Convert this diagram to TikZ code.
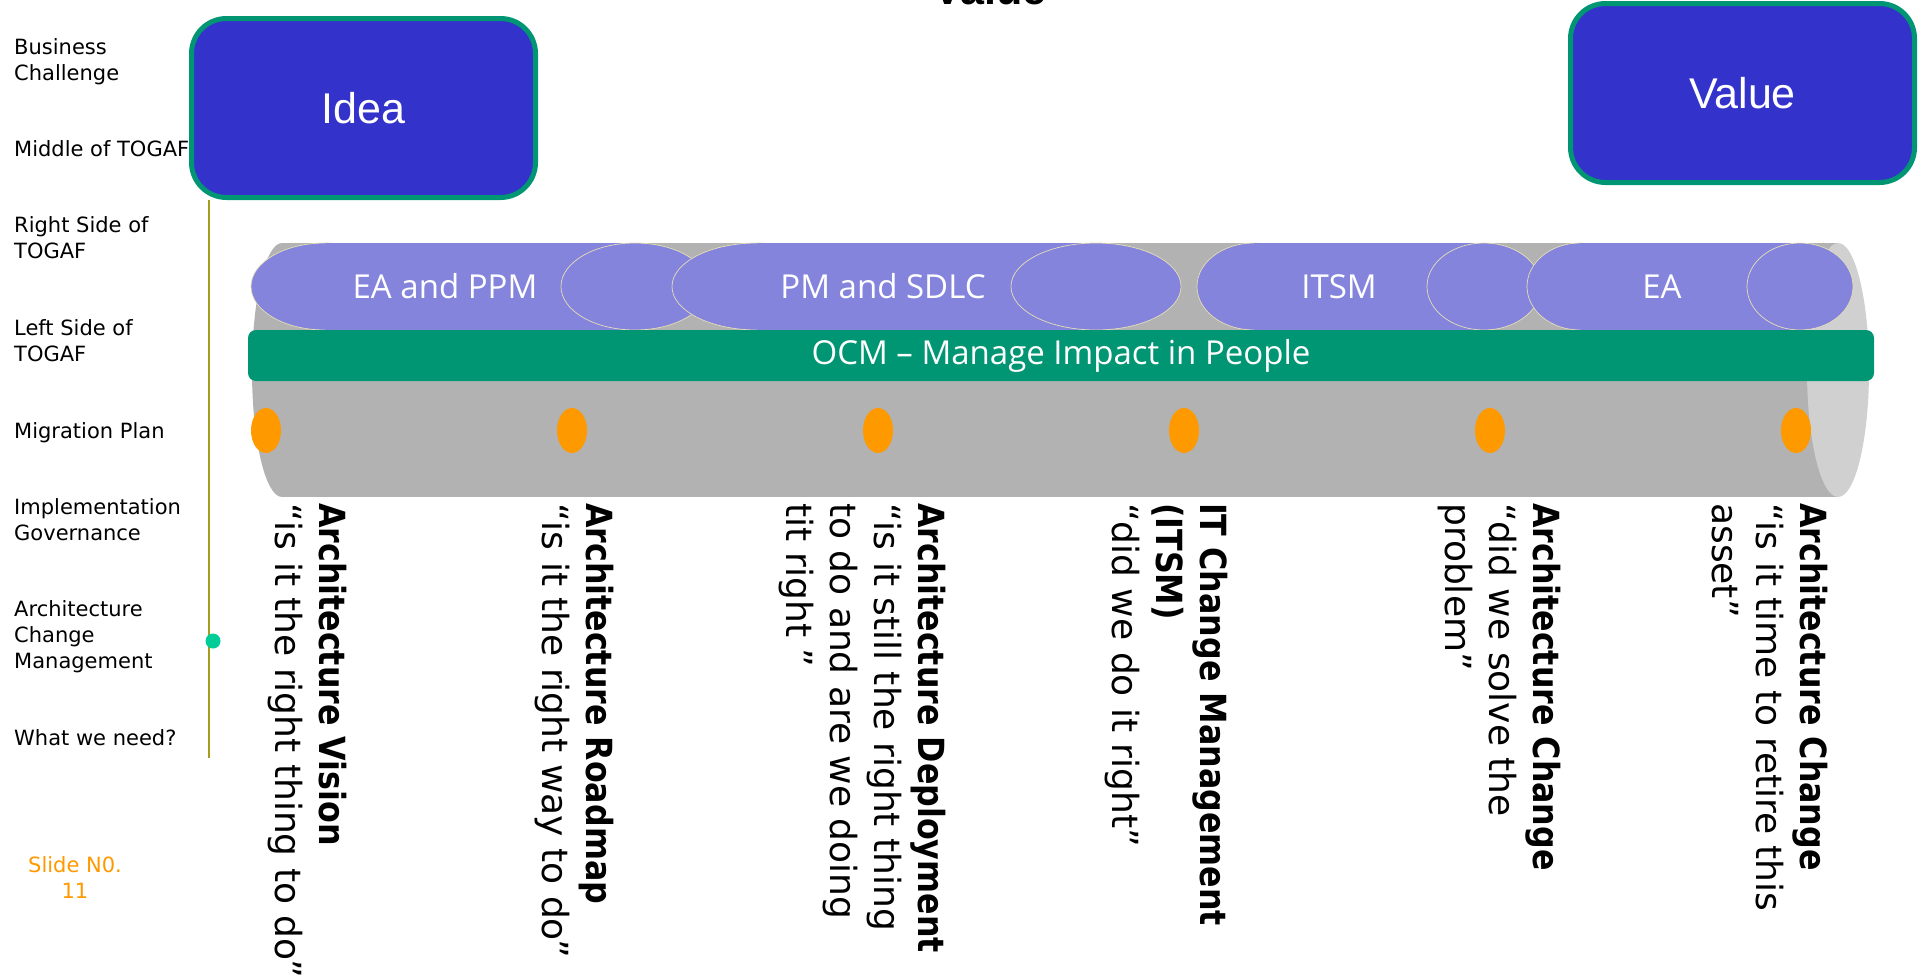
\documentclass[tikz,border=0pt]{standalone}
\usepackage{fontspec}
\setmainfont{DejaVu Sans}
\newfontfamily\boxfont{Liberation Sans}
\newfontfamily\segfont{Open Sans}
\newfontfamily\headfont[FakeStretch=0.88]{DejaVu Sans}
\usetikzlibrary{shapes.geometric}

\definecolor{boxblue}{HTML}{3333CC}
\definecolor{ocmgreen}{HTML}{009673}
\definecolor{lavender}{HTML}{8484DD}
\definecolor{rimline}{HTML}{E6DFB5}
\definecolor{tubegray}{HTML}{B2B2B2}
\definecolor{capgray}{HTML}{D0D0D0}
\definecolor{dotorange}{HTML}{FF9900}
\definecolor{acmgreen}{HTML}{00CC99}
\definecolor{axisolive}{HTML}{A89C1C}

\tikzset{
  phasebox/.style={draw=ocmgreen, line width=5pt, fill=boxblue, rounded corners=35pt,
    text=white, font=\boxfont\fontsize{43}{50}\selectfont,
    minimum width=344pt, minimum height=179pt, inner sep=0pt},
  rowlabel/.style={anchor=base west, align=left, inner sep=0pt, font=\fontsize{21}{26}\selectfont},
  seglabel/.style={text=white, inner sep=0pt, font=\segfont\fontsize{33}{40}\selectfont},
  segpart/.style={fill=lavender, draw=rimline, line width=0.7pt},
  milestone/.style={ellipse, fill=dotorange, minimum width=30pt, minimum height=45pt, inner sep=0pt},
  gatetext/.style={rotate=-90, anchor=north west, align=left, inner sep=0pt,
    font=\fontsize{36}{44}\selectfont}
}

\begin{document}
\begin{tikzpicture}[x=1pt, y=-1pt]
    \useasboundingbox (0,0) rectangle (1925,977);

    % Row labels on the left (base = last line)
    \node[rowlabel] (business) at (14,80) {Business\\Challenge};
    \node[rowlabel] (middle) at (14,156) {Middle of TOGAF};
    \node[rowlabel] (rightside) at (14,258) {Right Side of\\TOGAF};
    \node[rowlabel] (leftside) at (14,361) {Left Side of\\TOGAF};
    \node[rowlabel] (migration) at (14,438) {Migration Plan};
    \node[rowlabel] (governance) at (14,540) {Implementation\\Governance};
    \node[rowlabel] (archchange) at (14,668) {Architecture\\Change\\Management};
    \node[rowlabel] (need) at (14,745) {What we need?};
    \node[rowlabel, anchor=base, align=center, text=dotorange] (slide) at (75,898) {Slide N0.\\11};

    % Start and end boxes
    \node[phasebox] (idea) at (363.5,108) {Idea};
    \node[phasebox] (value) at (1742.5,93) {Value};
    \node[anchor=base, inner sep=0pt, font=\boxfont\bfseries\fontsize{43}{50}\selectfont] (goal) at (990,5) {Value};

    % Axis line with marker
    \coordinate (axisend) at (209,758);
    \draw[axisolive, line width=2pt] (idea.south -| axisend) -- (axisend);
    \node[circle, fill=acmgreen, minimum size=15pt, inner sep=0pt] (acm) at (213,641) {};

    % Tube
    \fill[tubegray] (282,370) ellipse[x radius=30pt, y radius=127pt];
    \fill[tubegray] (282,243) rectangle (1838,497);
    \fill[capgray] (1838,370) ellipse[x radius=31pt, y radius=127pt];

    % Segments on top of the tube
    \filldraw[segpart] (325,286.5) ellipse[x radius=74pt, y radius=43.5pt];
    \fill[lavender] (325,243) rectangle (635,330);
    \filldraw[segpart] (635,286.5) ellipse[x radius=74pt, y radius=43.5pt];

    \filldraw[segpart] (757,286.5) ellipse[x radius=85pt, y radius=43.5pt];
    \fill[lavender] (757,243) rectangle (1096,330);
    \filldraw[segpart] (1096,286.5) ellipse[x radius=85pt, y radius=43.5pt];

    \filldraw[segpart] (1254,286.5) ellipse[x radius=57pt, y radius=43.5pt];
    \fill[lavender] (1254,243) rectangle (1484,330);
    \filldraw[segpart] (1484,286.5) ellipse[x radius=57pt, y radius=43.5pt];

    \filldraw[segpart] (1580,286.5) ellipse[x radius=53pt, y radius=43.5pt];
    \fill[lavender] (1580,243) rectangle (1800,330);
    \filldraw[segpart] (1800,286.5) ellipse[x radius=53pt, y radius=43.5pt];

    \node[seglabel] (eappm) at (445,286.5) {EA and PPM};
    \node[seglabel] (pmsdlc) at (883,286.5) {PM and SDLC};
    \node[seglabel] (itsm) at (1339,286.5) {ITSM};
    \node[seglabel] (ea) at (1662,286.5) {EA};

    % OCM band
    \node[fill=ocmgreen, rounded corners=8pt, minimum width=1626pt, minimum height=51pt,
      inner sep=0pt, text=white, font=\segfont\fontsize{33}{40}\selectfont] (ocm) at (1061,355.5)
      {OCM – Manage Impact in People};

    % Milestones
    \node[milestone] (m1) at (266,430.5) {};
    \node[milestone] (m2) at (572,430.5) {};
    \node[milestone] (m3) at (878,430.5) {};
    \node[milestone] (m4) at (1184,430.5) {};
    \node[milestone] (m5) at (1490,430.5) {};
    \node[milestone] (m6) at (1796,430.5) {};

    % Gate questions
    \node[gatetext] (vision) at (347,503) {{\headfont\bfseries Architecture Vision}\\“is it the right thing to do”};
    \node[gatetext] (roadmap) at (614,503) {{\headfont\bfseries Architecture Roadmap}\\“is it the right way to do”};
    \node[gatetext] (deploy) at (946,503) {{\headfont\bfseries Architecture Deployment}\\“is it still the right thing\\to do and are we doing\\tit right ”};
    \node[gatetext] (itcm) at (1228,503) {{\headfont\bfseries IT Change Management}\\{\headfont\bfseries (ITSM)}\\“did we do it right”};
    \node[gatetext] (solve) at (1561,503) {{\headfont\bfseries Architecture Change}\\“did we solve the\\problem”};
    \node[gatetext] (retire) at (1828,503) {{\headfont\bfseries Architecture Change}\\“is it time to retire this\\asset”};
\end{tikzpicture}
\end{document}
